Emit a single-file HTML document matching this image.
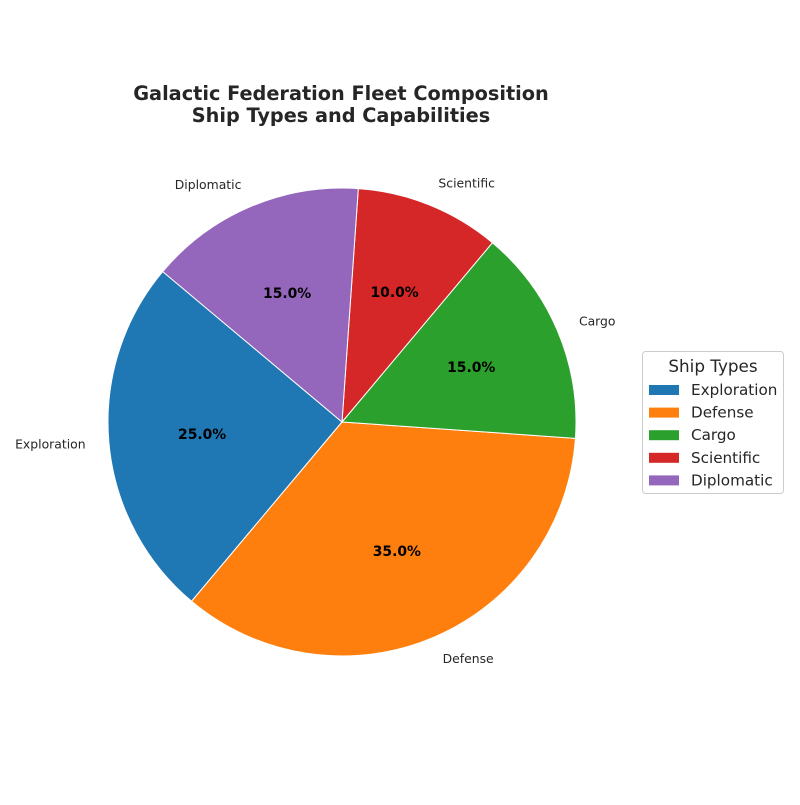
<!DOCTYPE html>
<html><head><meta charset="utf-8"><style>
body{margin:0;background:#fff;}
svg text{font-family:"DejaVu Sans","Liberation Sans",sans-serif;}
</style></head><body>
<svg id="chart" width="800" height="800" xmlns="http://www.w3.org/2000/svg">
<rect width="800" height="800" fill="#fff"/>
<text x="341" y="100" text-anchor="middle" font-size="19.3" font-weight="bold" fill="#262626">Galactic Federation Fleet Composition</text>
<text x="341" y="122" text-anchor="middle" font-size="19.3" font-weight="bold" fill="#262626">Ship Types and Capabilities</text>
<g id="slices"></g>
<g id="legend">
<rect x="642.5" y="351.5" width="141" height="142" rx="3" fill="#fff" stroke="#ccc"/>
<text x="713" y="372" text-anchor="middle" font-size="16.8" fill="#262626">Ship Types</text>
</g>
</svg>
<script>
const categories=["Exploration","Defense","Cargo","Scientific","Diplomatic"];
const values=[25,35,15,10,15];
const colors=["#1f77b4","#ff7f0e","#2ca02c","#d62728","#9467bd"];
const cx=342,cy=422,R=234,start=140;
const NS="http://www.w3.org/2000/svg";
const g=document.getElementById('slices');
const total=values.reduce((a,b)=>a+b,0);
let a=start;
function pt(deg,r){const t=deg*Math.PI/180;return [cx+r*Math.cos(t),cy-r*Math.sin(t)];}
values.forEach((v,i)=>{
  const sweep=v/total*360,a2=a+sweep;
  const p1=pt(a,R),p2=pt(a2,R);
  const path=document.createElementNS(NS,'path');
  path.setAttribute('d',`M${cx},${cy}L${p1[0]},${p1[1]}A${R},${R} 0 ${sweep>180?1:0} 0 ${p2[0]},${p2[1]}Z`);
  path.setAttribute('fill',colors[i]);path.setAttribute('stroke','#fff');path.setAttribute('stroke-width','1');
  
  
  g.appendChild(path);
  const mid=(a+a2)/2;
  const lp=pt(mid,R*1.1);
  const lt=document.createElementNS(NS,'text');
  lt.setAttribute('x',lp[0]);lt.setAttribute('y',lp[1]+4);
  lt.setAttribute('text-anchor',Math.cos(mid*Math.PI/180)<0?'end':'start');
  lt.setAttribute('font-size','12.4');lt.setAttribute('fill','#262626');
  lt.textContent=categories[i];
  
  
  g.appendChild(lt);
  const pp=pt(mid,R*0.6);
  const pt_=document.createElementNS(NS,'text');
  pt_.setAttribute('x',pp[0]);pt_.setAttribute('y',pp[1]+5);
  pt_.setAttribute('text-anchor','middle');pt_.setAttribute('font-size','13.9');pt_.setAttribute('font-weight','bold');
  pt_.textContent=(v/total*100).toFixed(1)+'%';
  
  
  g.appendChild(pt_);
  a=a2;
});
const lg=document.getElementById('legend');
categories.forEach((c,i)=>{
  const y=390+i*22.6;
  const r=document.createElementNS(NS,'rect');
  r.setAttribute('x',649);r.setAttribute('y',y-5);r.setAttribute('width',30);r.setAttribute('height',10);
  r.setAttribute('fill',colors[i]);
  
  
  lg.appendChild(r);
  const t=document.createElementNS(NS,'text');
  t.setAttribute('x',691);t.setAttribute('y',y+5);t.setAttribute('font-size','15.2');t.setAttribute('fill','#262626');
  t.textContent=c;
  
  
  lg.appendChild(t);
});
</script>
</body></html>
